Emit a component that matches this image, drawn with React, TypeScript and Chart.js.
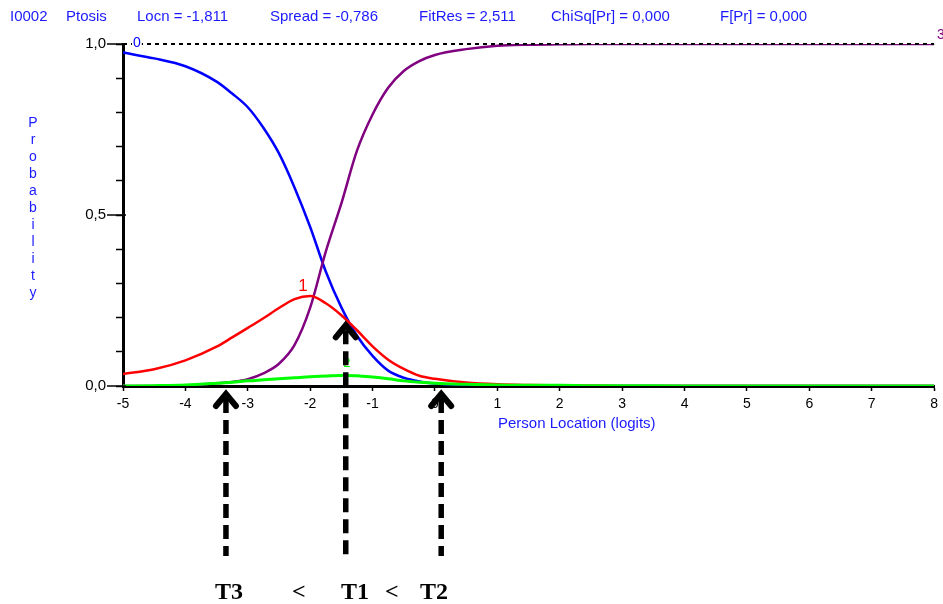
import React, { useEffect, useRef } from "react";
import { Chart, registerables } from "chart.js";

Chart.register(...registerables);

// ---- data ----
const logits = [-5, -4.5, -4, -3.5, -3.25, -3, -2.75, -2.5, -2.25, -2, -1.75, -1.5, -1.25, -1, -0.75, -0.5, -0.25, 0, 0.5, 1, 1.5, 2, 2.5, 3, 4, 5, 6, 7, 8];
const cat0 = [0.975, 0.958, 0.935, 0.89, 0.855, 0.815, 0.755, 0.68, 0.58, 0.465, 0.335, 0.23, 0.147, 0.088, 0.045, 0.024, 0.013, 0.007, 0.003, 0.001, 0, 0, 0, 0, 0, 0, 0, 0, 0];
const cat1 = [0.035, 0.049, 0.075, 0.115, 0.142, 0.17, 0.198, 0.228, 0.254, 0.263, 0.242, 0.207, 0.163, 0.116, 0.077, 0.05, 0.03, 0.021, 0.01, 0.005, 0.003, 0.002, 0.001, 0, 0, 0, 0, 0, 0];
const cat2 = [0, 0.001, 0.003, 0.008, 0.011, 0.015, 0.018, 0.021, 0.024, 0.027, 0.029, 0.031, 0.03, 0.026, 0.021, 0.015, 0.011, 0.008, 0.005, 0.003, 0.002, 0.002, 0.001, 0.001, 0, 0, 0, 0, 0];
const cat3 = [0, 0, 0.001, 0.008, 0.012, 0.02, 0.037, 0.065, 0.12, 0.229, 0.393, 0.534, 0.688, 0.794, 0.872, 0.921, 0.95, 0.968, 0.985, 0.995, 0.998, 0.999, 1, 1, 1, 1, 1, 1, 1];

const categoryNames = ["0", "1", "2", "3"];
const categoryLabelAt = [[-5, 0.975], [-2, 0.263], [-1.5, 0.031], [8, 1]];

const yMajorTicks = [0, 0.5, 1];
const yMajorLabels = ["0,0", "0,5", "1,0"];

const headerFields = ["I0002", "Ptosis", "Locn = -1,811", "Spread = -0,786", "FitRes = 2,511", "ChiSq[Pr] = 0,000", "F[Pr] = 0,000"];
const yTitle = "Probability";
const xTitle = "Person Location (logits)";

const thresholdNames = ["T3", "T1", "T2"];
const thresholdLogits = [-3.35, -1.43, 0.1];
const thresholdTipValues: (number | null)[] = [null, 0.195, null];

// ---- layout / style ----
const BLUE = "#0000ff";
const RED = "#ff0000";
const GREEN = "#00ff00";
const PURPLE = "#800080";
const TEXT_BLUE = "#1a1aff";
const SANS = '"Liberation Sans", Arial, sans-serif';
const SERIF = '"Liberation Serif", "Times New Roman", serif';

const headerX = [10, 66, 137, 270, 419, 551, 720];
const catColors = [BLUE, RED, GREEN, PURPLE];
const catOffsets = [[10, -2], [-12, -1], [2, -5], [3, -2]];
const catFontSizes = [14, 17, 13, 14];

const bottomText = [
  { t: "T3", x: 215 },
  { t: "<", x: 292 },
  { t: "T1", x: 341 },
  { t: "<", x: 385 },
  { t: "T2", x: 420 },
];

const decoPlugin = {
  id: "deco",
  afterDraw(chart: any) {
    const { ctx, chartArea } = chart;
    const xs = chart.scales.x;
    const ys = chart.scales.y;
    ctx.save();

    // major y ticks
    ctx.strokeStyle = "#000";
    ctx.lineWidth = 1.5;
    yMajorTicks.forEach((v) => {
      const py = ys.getPixelForValue(v);
      ctx.beginPath();
      ctx.moveTo(chartArea.left - 16, py);
      ctx.lineTo(chartArea.left + 3, py);
      ctx.stroke();
    });

    // header
    ctx.fillStyle = TEXT_BLUE;
    ctx.font = `15px ${SANS}`;
    ctx.textBaseline = "alphabetic";
    ctx.textAlign = "left";
    headerFields.forEach((t, i) => ctx.fillText(t, headerX[i], 21));

    // y title (stacked letters)
    ctx.font = `14px ${SANS}`;
    ctx.textAlign = "center";
    yTitle.split("").forEach((ch, i) => ctx.fillText(ch, 33, 127 + i * 17));

    // x title
    ctx.textAlign = "left";
    ctx.font = `15px ${SANS}`;
    ctx.fillText(xTitle, 498, 428);

    // category labels
    ctx.textBaseline = "bottom";
    categoryNames.forEach((name, i) => {
      const [vx, vy] = categoryLabelAt[i];
      const px = xs.getPixelForValue(vx) + catOffsets[i][0];
      const py = ys.getPixelForValue(vy) + catOffsets[i][1];
      ctx.font = `${catFontSizes[i]}px ${SANS}`;
      if (i === 0) {
        const w = ctx.measureText(name).width;
        ctx.fillStyle = "#fff";
        ctx.fillRect(px - 1, py - 14, w + 2, 14);
      }
      ctx.fillStyle = catColors[i];
      ctx.fillText(name, px, py);
    });

    // threshold arrows
    ctx.strokeStyle = "#000";
    thresholdLogits.forEach((t, i) => {
      const px = xs.getPixelForValue(t);
      const tv = thresholdTipValues[i];
      const tip = tv === null ? chartArea.bottom + 5 : ys.getPixelForValue(tv) + 3;
      ctx.setLineDash([]);
      ctx.lineWidth = 6;
      ctx.lineCap = "round";
      ctx.lineJoin = "miter";
      ctx.beginPath();
      ctx.moveTo(px - 10, tip + 15);
      ctx.lineTo(px, tip + 3);
      ctx.lineTo(px + 10, tip + 15);
      ctx.stroke();
      ctx.lineCap = "butt";
      ctx.lineWidth = 5.5;
      ctx.setLineDash([14, 7]);
      ctx.beginPath();
      ctx.moveTo(px, tip + 8);
      ctx.lineTo(px, 556);
      ctx.stroke();
    });
    ctx.setLineDash([]);

    // bottom text
    ctx.fillStyle = "#000";
    ctx.font = `bold 24px ${SERIF}`;
    ctx.textBaseline = "alphabetic";
    ctx.textAlign = "left";
    bottomText.forEach((b) => ctx.fillText(b.t, b.x, 599));

    ctx.restore();
  },
};

function series(values: number[]) {
  return logits.map((x, i) => ({ x, y: values[i] }));
}

export default function App() {
  const ref = useRef<HTMLCanvasElement>(null);
  useEffect(() => {
    const common = {
      pointRadius: 0,
      borderWidth: 2.5,
      fill: false,
      cubicInterpolationMode: "monotone" as const,
    };
    const chart = new Chart(ref.current!, {
      type: "line",
      data: {
        datasets: [
          { data: [{ x: -5, y: 1 }, { x: 8, y: 1 }], borderColor: "#000", borderDash: [4, 4], borderWidth: 2, pointRadius: 0, order: -1, clip: false },
          { ...common, data: series(cat2), borderColor: GREEN, borderWidth: 3, order: 0 },
          { ...common, data: series(cat1), borderColor: RED, order: 1 },
          { ...common, data: series(cat3), borderColor: PURPLE, order: 2 },
          { ...common, data: series(cat0), borderColor: BLUE, order: 3 },
        ],
      },
      options: {
        responsive: false,
        animation: false,
        layout: { padding: { top: 44, right: 8, left: 0, bottom: 0 } },
        plugins: { legend: { display: false }, tooltip: { enabled: false }, title: { display: false } },
        scales: {
          x: {
            type: "linear",
            min: -5,
            max: 8,
            ticks: { stepSize: 1, color: "#000", font: { family: SANS, size: 14 }, padding: 5, autoSkip: false, callback: (v: any) => String(v) },
            grid: { drawOnChartArea: false, drawTicks: true, tickLength: 5, tickColor: "#000", tickWidth: 1.5 },
            border: { display: true, color: "#000", width: 3 },
            afterFit: (s: any) => { s.height = 218; },
          },
          y: {
            type: "linear",
            min: 0,
            max: 1,
            ticks: {
              stepSize: 0.1,
              autoSkip: false,
              color: "#000",
              font: { family: SANS, size: 15 },
              padding: 10,
              callback: (v: any) => {
                const k = yMajorTicks.findIndex((m) => Math.abs(m - v) < 1e-6);
                return k >= 0 ? yMajorLabels[k] : "";
              },
            },
            grid: { drawOnChartArea: false, drawTicks: true, tickLength: 7, tickColor: "#000", tickWidth: 1.5 },
            border: { display: true, color: "#000", width: 3 },
            afterFit: (s: any) => { s.width = 123; },
          },
        },
      },
      plugins: [decoPlugin],
    });
    return () => chart.destroy();
  }, []);
  return (
    <div style={{ position: "absolute", left: 0, top: 0, width: 943, height: 604, background: "#fff" }}>
      <canvas ref={ref} width={943} height={604} style={{ display: "block" }} />
    </div>
  );
}
